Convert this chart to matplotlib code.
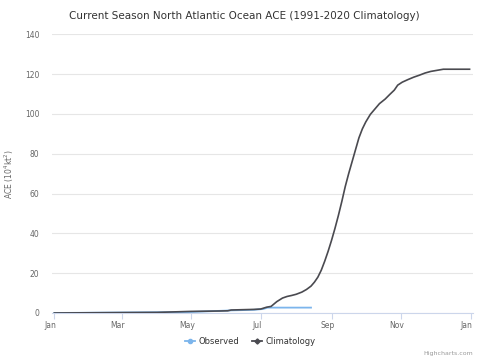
import matplotlib
matplotlib.use("Agg")
import matplotlib.pyplot as plt
from matplotlib.lines import Line2D
from matplotlib.transforms import ScaledTranslation

title = "Current Season North Atlantic Ocean ACE (1991-2020 Climatology)"
ylabel = "ACE (10$^4$kt$^2$)"

# day of year (0 = Jan 1) and ACE values
clim_days = [0, 31, 59, 90, 120, 145, 152, 155, 175, 181, 186, 190, 195, 200, 204, 208,
             212, 217, 221, 225, 228, 231, 234, 237, 240, 243, 246, 249, 252, 255, 258,
             261, 264, 267, 270, 273, 277, 281, 285, 290, 294, 298, 301, 305, 310, 315,
             320, 325, 330, 336, 341, 350, 364]
clim_vals = [0.0, 0.1, 0.2, 0.3, 0.8, 1.0, 1.1, 1.5, 1.8, 2.0, 2.9, 3.3, 5.7, 7.5, 8.3, 8.8,
             9.4, 10.5, 11.8, 13.5, 15.5, 18.0, 21.5, 26.0, 31.0, 36.5, 42.5, 49.0, 56.0, 63.5, 70.0,
             76.0, 82.0, 88.0, 92.5, 96.0, 99.8, 102.5, 105.2, 107.5, 109.8, 112.0, 114.5, 116.0, 117.3, 118.5,
             119.5, 120.6, 121.4, 122.0, 122.5, 122.5, 122.5]

obs_days = [0, 120, 155, 175, 183, 187, 225]
obs_vals = [0.0, 0.5, 1.3, 1.6, 2.0, 2.7, 2.7]

tick_days = [0, 59, 120, 181, 243, 304, 365]
tick_labels = ["Jan", "Mar", "May", "Jul", "Sep", "Nov", "Jan"]
yticks = [0, 20, 40, 60, 80, 100, 120, 140]

obs_color = "#7cb5ec"
clim_color = "#4a4a50"

fig = plt.figure(figsize=(5.01, 3.61), dpi=100)
ax = fig.add_axes([0.1032, 0.1330, 0.8409, 0.7717])

ax.plot(obs_days, obs_vals, color=obs_color, lw=1.3, zorder=3)
ax.plot(clim_days, clim_vals, color=clim_color, lw=1.2, zorder=4)

ax.set_xlim(-2.3, 367)
ax.set_ylim(0, 140)
ax.set_yticks(yticks)
ax.set_xticks(tick_days)
ax.set_xticklabels(tick_labels)

for s in ["top", "right", "left"]:
    ax.spines[s].set_visible(False)
ax.spines["bottom"].set_color("#ccd6eb")
ax.spines["bottom"].set_linewidth(0.8)
ax.grid(axis="y", color="#e6e6e6", lw=0.8)
ax.set_axisbelow(True)

ax.tick_params(axis="y", length=0, labelsize=5.5, labelcolor="#666666", pad=9)
ax.tick_params(axis="x", length=4, color="#ccd6eb", labelsize=5.5, labelcolor="#666666", pad=2)
off = ScaledTranslation(-4/100, 0, fig.dpi_scale_trans)
for lab in ax.get_xticklabels():
    lab.set_transform(lab.get_transform() + off)

ax.set_ylabel(ylabel, fontsize=5.5, color="#666666", labelpad=6)

fig.text(0.487, 0.957, title, ha="center", va="center", fontsize=7.5, color="#333333")

handles = [Line2D([], [], color=obs_color, marker="o", markersize=3, lw=1.3),
           Line2D([], [], color=clim_color, marker="D", markersize=2.6, lw=1.3)]
fig.legend(handles, ["Observed", "Climatology"], loc="center", bbox_to_anchor=(0.5, 0.053),
           ncol=2, frameon=False, fontsize=6, handlelength=1.2, handletextpad=0.4,
           columnspacing=1.5, labelcolor="#333333")

fig.text(0.945, 0.022, "Highcharts.com", ha="right", va="center", fontsize=4.5, color="#999999")

fig.savefig("out.png", dpi=100)
